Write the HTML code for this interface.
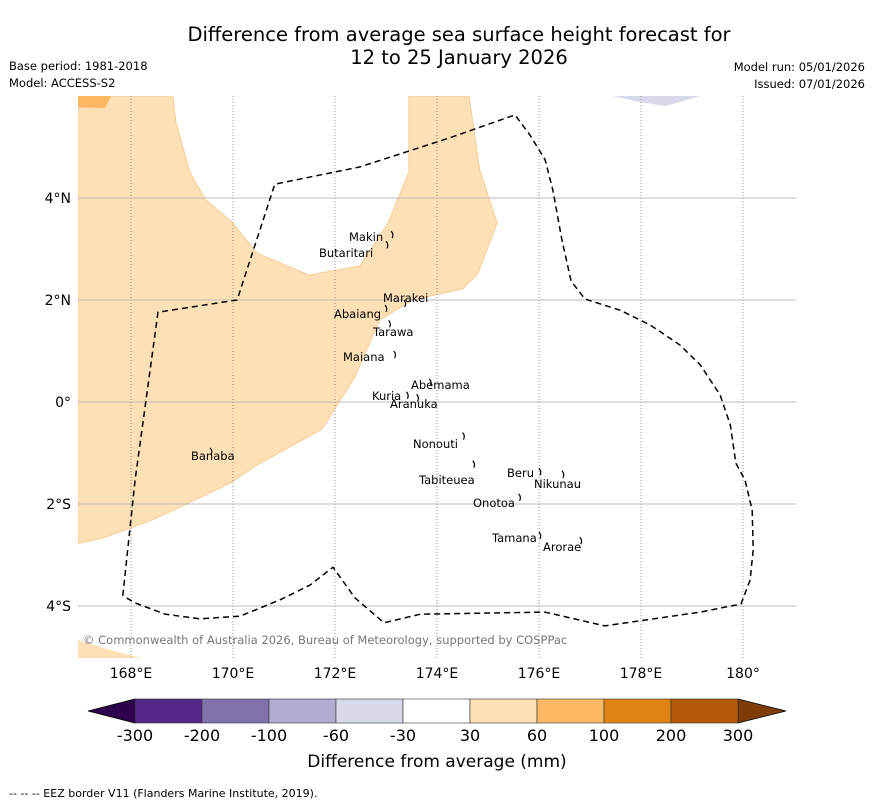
<!DOCTYPE html>
<html><head><meta charset="utf-8">
<style>
body{margin:0;background:#fff;width:873px;height:804px;overflow:hidden;font-family:"DejaVu Sans","Liberation Sans",sans-serif;}
svg{display:block}
</style></head>
<body>
<svg id="chart" width="873" height="804" viewBox="0 0 873 804" xmlns="http://www.w3.org/2000/svg" font-family="DejaVu Sans, Liberation Sans, sans-serif">
<text x="459" y="41" font-size="19.5" text-anchor="middle">Difference from average sea surface height forecast for</text>
<text x="459" y="64" font-size="19.5" text-anchor="middle">12 to 25 January 2026</text>
<text x="9" y="70" font-size="11.5">Base period: 1981-2018</text>
<text x="9" y="87" font-size="11.5">Model: ACCESS-S2</text>
<text x="865" y="71" font-size="11.5" text-anchor="end">Model run: 05/01/2026</text>
<text x="865" y="88" font-size="11.5" text-anchor="end">Issued: 07/01/2026</text>
<defs><clipPath id="mapclip"><rect x="78" y="96" width="718" height="562"/></clipPath></defs>
<g id="map" clip-path="url(#mapclip)"></g>
<g id="grid"></g>
<g id="eez" clip-path="url(#mapclip)"></g>
<g id="labels" font-size="11.5"></g>
<g id="axes" font-size="14"></g>
<text x="83" y="644" font-size="11.5" fill="#777">© Commonwealth of Australia 2026, Bureau of Meteorology, supported by COSPPac</text>
<g id="cbar"></g>
<text x="437" y="767" font-size="17" text-anchor="middle">Difference from average (mm)</text>
<text x="9" y="797" font-size="11">--  --  -- EEZ border V11 (Flanders Marine Institute, 2019).</text>
</svg>
<script>
const NS='http://www.w3.org/2000/svg';
const lonTicks=[168,170,172,174,176,178,180];
const lonTickLabels=['168°E','170°E','172°E','174°E','176°E','178°E','180°'];
const latTicks=[4,2,0,-2,-4];
const latTickLabels=['4°N','2°N','0°','2°S','4°S'];
const cbarLevels=['-300','-200','-100','-60','-30','30','60','100','200','300'];
const cbarColors=['#542788','#8073ac','#b2abd2','#d8daeb','#ffffff','#fee0b6','#fdb863','#e08214','#b35806'];
const peachLon=[166.96,168.82,168.88,169.16,169.47,169.98,170.47,171.49,172.49,173.04,173.45,173.45,174.63,174.84,175.18,174.80,174.51,173.53,172.88,172.39,171.75,170.47,169.98,169.47,168.43,167.45,166.96];
const peachLat=[6.0,6.0,5.49,4.49,3.96,3.53,2.92,2.49,2.67,3.51,4.51,6.0,6.0,4.55,3.51,2.51,2.22,2.0,1.61,0.49,-0.53,-1.24,-1.57,-1.82,-2.31,-2.67,-2.78];
const orangeLon=[166.96,167.61,167.49,166.96];
const orangeLat=[6.0,6.0,5.76,5.78];
const peach2Lon=[166.96,167.51,168.27,166.96];
const peach2Lat=[-4.67,-4.84,-5.04,-5.04];
const lavLon=[177.45,177.98,178.47,179.16];
const lavLat=[6.0,5.88,5.80,6.0];
const eezLon=[167.84,168.08,168.53,170.08,170.82,172.49,174.25,175.53,175.82,176.12,176.27,176.45,176.63,176.90,177.59,178.18,178.76,179.16,179.55,179.75,179.86,180.04,180.18,180.20,180.14,179.96,179.16,177.29,176.12,173.67,172.96,172.39,171.96,171.51,170.92,170.14,169.35,168.67,168.08,167.84];
const eezLat=[-3.80,-1.53,1.76,2.0,4.27,4.61,5.18,5.63,5.24,4.75,4.16,3.18,2.37,2.02,1.80,1.51,1.12,0.73,0.14,-0.45,-1.20,-1.53,-2.12,-2.90,-3.49,-3.96,-4.12,-4.39,-4.12,-4.16,-4.33,-3.84,-3.24,-3.59,-3.88,-4.20,-4.25,-4.16,-3.94,-3.80];
const islandNames=['Makin','Butaritari','Marakei','Abaiang','Tarawa','Maiana','Abemama','Kuria','Aranuka','Nonouti','Tabiteuea','Beru','Nikunau','Onotoa','Tamana','Arorae','Banaba'];
const islandLon=[173.1,173.0,173.35,172.98,173.05,173.15,173.85,173.4,173.6,174.5,174.7,176.0,176.45,175.6,176.0,176.8,169.55];
const islandLat=[3.35,3.15,2.0,1.9,1.6,1.0,0.45,0.2,0.15,-0.6,-1.15,-1.3,-1.35,-1.8,-2.55,-2.65,-0.9];
const labelX=[349,319,383,334,373,343,411,372,390,413,419,507,534,473,492,543,191];
const labelY=[241,257,302,318,336,361,389,400,408,448,484,477,488,507,542,551,460];

const X=lon=>131+(lon-168)*51;
const Y=lat=>402-lat*51;
function el(tag,attrs,parent){const e=document.createElementNS(NS,tag);for(const k in attrs)e.setAttribute(k,attrs[k]);parent.appendChild(e);return e;}
function pts(lons,lats){return lons.map((l,i)=>X(l).toFixed(1)+','+Y(lats[i]).toFixed(1)).join(' ');}
const map=document.getElementById('map');
let p;
p=el('polygon',{points:pts(peachLon,peachLat),fill:'#fee0b6',stroke:'#f5cf9a','stroke-width':1},map);


p=el('polygon',{points:pts(orangeLon,orangeLat),fill:'#fdb863'},map);


p=el('polygon',{points:pts(peach2Lon,peach2Lat),fill:'#fee0b6'},map);


p=el('polygon',{points:pts(lavLon,lavLat),fill:'#d8daeb'},map);



const grid=document.getElementById('grid');
lonTicks.forEach(l=>{const g=el('line',{x1:X(l),x2:X(l),y1:96,y2:658,stroke:'#777','stroke-width':0.8,'stroke-dasharray':'1,2'},grid);

});
latTicks.forEach(l=>{const g=el('line',{x1:78,x2:796,y1:Y(l),y2:Y(l),stroke:'#bbb','stroke-width':1},grid);

});

const eez=document.getElementById('eez');
p=el('polyline',{points:pts(eezLon,eezLat),fill:'none',stroke:'#000','stroke-width':1.5,'stroke-dasharray':'6,4'},eez);



const labels=document.getElementById('labels');
islandNames.forEach((n,i)=>{const x=X(islandLon[i]),y=Y(islandLat[i]);
const m=el('path',{d:`M${x},${y} q3,3 1,7`,fill:'none',stroke:'#000','stroke-width':1.2},labels);


const t=el('text',{x:labelX[i],y:labelY[i]},labels);t.textContent=n;

});

const axes=document.getElementById('axes');
lonTicks.forEach((l,i)=>{const t=el('text',{x:X(l),y:678,'text-anchor':'middle'},axes);t.textContent=lonTickLabels[i];

});
latTicks.forEach((l,i)=>{const t=el('text',{x:71,y:Y(l)+5,'text-anchor':'end'},axes);t.textContent=latTickLabels[i];

});

const cb=document.getElementById('cbar');
const cx0=135,cx1=738,cy=699,ch=24,w=(cx1-cx0)/cbarColors.length;
p=el('polygon',{points:`${cx0},${cy} ${88},${cy+ch/2} ${cx0},${cy+ch}`,fill:'#2d004b',stroke:'#000','stroke-width':0.8},cb);


p=el('polygon',{points:`${cx1},${cy} ${786},${cy+ch/2} ${cx1},${cy+ch}`,fill:'#7f3b08',stroke:'#000','stroke-width':0.8},cb);


cbarColors.forEach((c,i)=>{const r=el('rect',{x:cx0+i*w,y:cy,width:w,height:ch,fill:c,stroke:'#333','stroke-width':0.6},cb);

});
cbarLevels.forEach((v,i)=>{const t=el('text',{x:cx0+i*w,y:741,'text-anchor':'middle','font-size':16},cb);t.textContent=v;

});
</script>
</body></html>
